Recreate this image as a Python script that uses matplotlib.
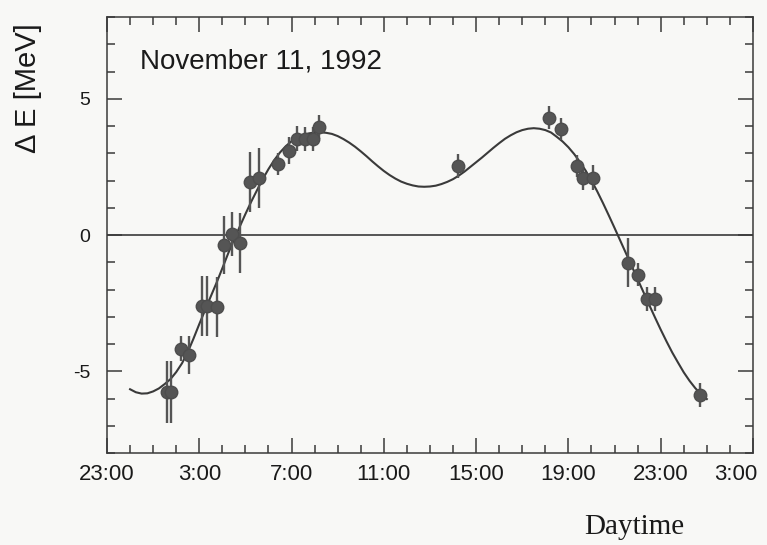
import numpy as np
import matplotlib
matplotlib.use("Agg")
import matplotlib.pyplot as plt
import matplotlib.transforms as mtransforms
from matplotlib.ticker import MultipleLocator, FixedLocator, FuncFormatter

# measured points (hours counted from midnight of Nov 10, so 23 = 23:00, 51 = 3:00 of Nov 12)
obs_hour = [25.60, 25.77, 26.21, 26.55, 27.12, 27.33, 27.77, 28.07, 28.42, 28.77,
            29.20, 29.59, 30.41, 30.89, 31.24, 31.58, 31.93, 32.19,
            38.21, 42.16, 42.68, 43.37, 43.63, 44.07, 45.58, 46.02, 46.41, 46.75, 48.70]
obs_de = [-5.76, -5.76, -4.17, -4.40, -2.62, -2.62, -2.63, -0.37, 0.04, -0.30,
          1.96, 2.09, 2.61, 3.09, 3.54, 3.53, 3.53, 3.97,
          2.53, 4.31, 3.90, 2.53, 2.08, 2.11, -1.01, -1.45, -2.34, -2.35, -5.88]
obs_err = [1.15, 1.15, 0.45, 0.70, 1.10, 1.10, 1.10, 1.05, 0.80, 1.10,
           1.10, 1.10, 0.40, 0.50, 0.45, 0.45, 0.45, 0.45,
           0.45, 0.42, 0.40, 0.40, 0.42, 0.45, 0.90, 0.43, 0.45, 0.45, 0.45]

# fitted curve, every quarter hour
fit_hour = [24.00, 24.25, 24.50, 24.75, 25.00, 25.25, 25.50, 25.75, 26.00, 26.25,
            26.50, 26.75, 27.00, 27.25, 27.50, 27.75, 28.00, 28.25, 28.50, 28.75,
            29.00, 29.25, 29.50, 29.75, 30.00, 30.25, 30.50, 30.75, 31.00, 31.25,
            31.50, 31.75, 32.00, 32.25, 32.50, 32.75, 33.00, 33.25, 33.50, 33.75,
            34.00, 34.25, 34.50, 34.75, 35.00, 35.25, 35.50, 35.75, 36.00, 36.25,
            36.50, 36.75, 37.00, 37.25, 37.50, 37.75, 38.00, 38.25, 38.50, 38.75,
            39.00, 39.25, 39.50, 39.75, 40.00, 40.25, 40.50, 40.75, 41.00, 41.25,
            41.50, 41.75, 42.00, 42.25, 42.50, 42.75, 43.00, 43.25, 43.50, 43.75,
            44.00, 44.25, 44.50, 44.75, 45.00, 45.25, 45.50, 45.75, 46.00, 46.25,
            46.50, 46.75, 47.00, 47.25, 47.50, 47.75, 48.00, 48.25, 48.50, 48.75,
            49.00]
fit_de = [-5.66, -5.77, -5.82, -5.81, -5.74, -5.63, -5.47, -5.29, -5.03, -4.71,
          -4.30, -3.80, -3.27, -2.76, -2.25, -1.75, -1.22, -0.68, -0.18, 0.30,
          0.77, 1.22, 1.64, 2.05, 2.42, 2.75, 3.03, 3.26, 3.44, 3.58,
          3.67, 3.73, 3.76, 3.77, 3.75, 3.71, 3.63, 3.52, 3.39, 3.24,
          3.07, 2.89, 2.70, 2.52, 2.35, 2.20, 2.07, 1.96, 1.88, 1.82,
          1.78, 1.77, 1.78, 1.81, 1.87, 1.95, 2.05, 2.18, 2.33, 2.50,
          2.67, 2.84, 3.02, 3.20, 3.37, 3.53, 3.66, 3.77, 3.85, 3.90,
          3.92, 3.90, 3.85, 3.76, 3.60, 3.43, 3.22, 2.97, 2.68, 2.36,
          2.00, 1.60, 1.17, 0.72, 0.26, -0.21, -0.68, -1.15, -1.62, -2.09,
          -2.56, -3.02, -3.47, -3.90, -4.31, -4.68, -5.04, -5.35, -5.62, -5.84,
          -6.02]

xtick_pos = [23, 27, 31, 35, 39, 43, 47, 51]
xtick_labels = ["23:00", "3:00", "7:00", "11:00", "15:00", "19:00", "23:00", "3:00"]
ytick_pos = [-5, 0, 5]

plt.rcParams['font.family'] = ['Liberation Sans', 'DejaVu Sans']

ink = "#3a3a3a"
fig = plt.figure(figsize=(7.67, 5.45), dpi=100, facecolor="#f8f8f6")
ax = fig.add_axes([0.1395, 0.1688, 0.8422, 0.80])
ax.set_facecolor("#f8f8f6")

ax.axhline(0, color=ink, lw=1.2, zorder=1)
ax.plot(fit_hour, fit_de, color=ink, lw=1.5, zorder=2)
ax.errorbar(obs_hour, obs_de, yerr=obs_err, fmt="o", ms=9, color="#555555",
            mec="#4d4d4d", ecolor="#555555", elinewidth=1.7, capsize=0, zorder=3)

ax.set_xlim(23, 51)
ax.set_ylim(-8, 8)

ax.xaxis.set_major_locator(FixedLocator(xtick_pos))
ax.set_xticklabels(xtick_labels)
ax.xaxis.set_minor_locator(MultipleLocator(1))
ax.yaxis.set_major_locator(FixedLocator(ytick_pos))
ax.yaxis.set_major_formatter(FuncFormatter(lambda v, p: "%d" % v))
ax.yaxis.set_minor_locator(MultipleLocator(1))

ax.tick_params(which="both", direction="in", top=True, right=True, color=ink, width=1.1)
ax.tick_params(which="major", length=11)
ax.tick_params(which="minor", length=5.5)
ax.tick_params(axis="x", which="major", labelsize=16, pad=8, labelcolor="#1a1a1a")
ax.tick_params(axis="y", which="major", labelsize=14, pad=12, labelcolor="#1a1a1a")

# last label sits a bit left of its tick so it stays inside the page
last = ax.get_xticklabels()[-1]
last.set_transform(last.get_transform() +
                   mtransforms.ScaledTranslation(-0.17, 0, fig.dpi_scale_trans))

for sp in ax.spines.values():
    sp.set_color(ink)
    sp.set_linewidth(1.1)

fig.text(140 / 767, 1 - 62 / 545, "November 11, 1992", fontsize=20,
         ha="left", va="center", color="#1a1a1a")
fig.text(28 / 767, 1 - 88 / 545, "\u0394 E [MeV]", fontsize=21, rotation=90,
         ha="center", va="center", color="#1a1a1a")
fig.text(634 / 767, 1 - 527 / 545, "Daytime", fontsize=21, family="Liberation Serif",
         ha="center", va="center", color="#1a1a1a")

fig.savefig("out.png", dpi=100, facecolor=fig.get_facecolor())
